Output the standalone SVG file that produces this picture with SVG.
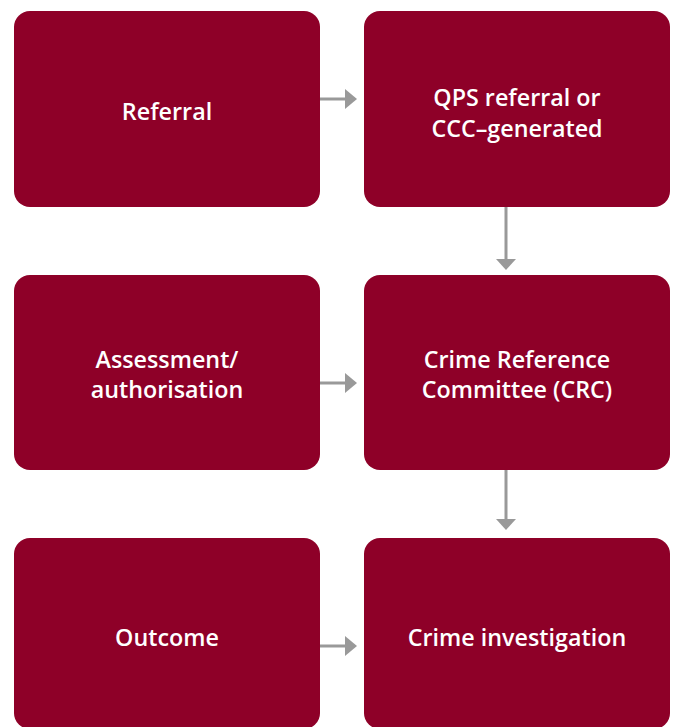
<svg xmlns="http://www.w3.org/2000/svg" width="675" height="727" viewBox="0 0 675 727">
  <defs>
    <style>
      .box { fill: #8E0028; }
      .label { fill: #ffffff; font-family: "Open Sans", "Noto Sans", "Liberation Sans", sans-serif; font-weight: 600; font-size: 23.3px; text-anchor: middle; }
      .conn line { stroke: #999999; stroke-width: 3; }
      .conn polygon { fill: #999999; }
    </style>
  </defs>
  <rect width="675" height="727" fill="#ffffff"/>

  <g id="referral">
    <rect class="box" x="14" y="11" width="306" height="196" rx="16"/>
    <text class="label" x="167" y="120">Referral</text>
  </g>
  <g id="qps-referral">
    <rect class="box" x="364" y="11" width="306" height="196" rx="16"/>
    <text class="label" x="517" y="106">QPS referral or</text>
    <text class="label" x="517" y="137">CCC–generated</text>
  </g>
  <g id="assessment">
    <rect class="box" x="14" y="275" width="306" height="195" rx="16"/>
    <text class="label" x="167" y="368">Assessment/</text>
    <text class="label" x="167" y="398">authorisation</text>
  </g>
  <g id="crc">
    <rect class="box" x="364" y="275" width="306" height="195" rx="16"/>
    <text class="label" x="517" y="368">Crime Reference</text>
    <text class="label" x="517" y="398">Committee (CRC)</text>
  </g>
  <g id="outcome">
    <rect class="box" x="14" y="538" width="306" height="191" rx="16"/>
    <text class="label" x="167" y="646">Outcome</text>
  </g>
  <g id="investigation">
    <rect class="box" x="364" y="538" width="306" height="191" rx="16"/>
    <text class="label" x="517" y="646">Crime investigation</text>
  </g>

  <g id="connectors" class="conn">
    <line x1="320" y1="99" x2="346" y2="99"/>
    <polygon points="345,89 357,99 345,109"/>
    <line x1="320" y1="383" x2="346" y2="383"/>
    <polygon points="345,373 357,383 345,393"/>
    <line x1="320" y1="646" x2="346" y2="646"/>
    <polygon points="345,636 357,646 345,656"/>
    <line x1="506" y1="207" x2="506" y2="260"/>
    <polygon points="496,259 516,259 506,270"/>
    <line x1="506" y1="470" x2="506" y2="520"/>
    <polygon points="496,519 516,519 506,530"/>
  </g>
</svg>
